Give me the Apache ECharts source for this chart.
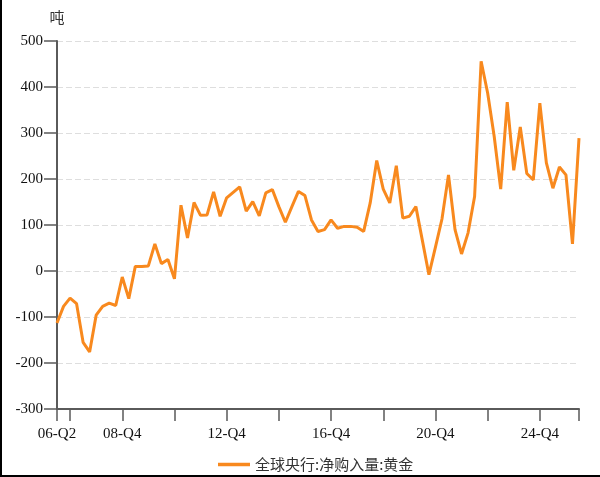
<!DOCTYPE html>
<html>
<head>
<meta charset="utf-8">
<script src="https://cdn.jsdelivr.net/npm/echarts@6/dist/echarts.min.js"></script>
<style>
html,body{margin:0;padding:0;background:#fff;}
#wrap{position:relative;width:600px;height:477px;}
#chart{position:absolute;left:0;top:0;width:600px;height:477px;}
#frame{position:absolute;left:0;top:0;width:600px;height:477px;box-sizing:border-box;border-left:2px solid #000;border-bottom:2px solid #000;pointer-events:none;}
</style>
</head>
<body>
<div id="wrap"><div id="chart"></div><div id="frame"></div></div>
<script>
const categories = [
 '06-Q2','06-Q3','06-Q4',
 '07-Q1','07-Q2','07-Q3','07-Q4',
 '08-Q1','08-Q2','08-Q3','08-Q4',
 '09-Q1','09-Q2','09-Q3','09-Q4',
 '10-Q1','10-Q2','10-Q3','10-Q4',
 '11-Q1','11-Q2','11-Q3','11-Q4',
 '12-Q1','12-Q2','12-Q3','12-Q4',
 '13-Q1','13-Q2','13-Q3','13-Q4',
 '14-Q1','14-Q2','14-Q3','14-Q4',
 '15-Q1','15-Q2','15-Q3','15-Q4',
 '16-Q1','16-Q2','16-Q3','16-Q4',
 '17-Q1','17-Q2','17-Q3','17-Q4',
 '18-Q1','18-Q2','18-Q3','18-Q4',
 '19-Q1','19-Q2','19-Q3','19-Q4',
 '20-Q1','20-Q2','20-Q3','20-Q4',
 '21-Q1','21-Q2','21-Q3','21-Q4',
 '22-Q1','22-Q2','22-Q3','22-Q4',
 '23-Q1','23-Q2','23-Q3','23-Q4',
 '24-Q1','24-Q2','24-Q3','24-Q4',
 '25-Q1','25-Q2','25-Q3','25-Q4',
 '26-Q1','26-Q2'
];
const goldNetPurchase = [
 -113,-77,-59,-71,-155,-176,-96,-77,-70,-75,
 -13,-60,10,10,11,59,16,25,-17,143,
 72,149,121,122,172,119,159,171,183,130,
 151,120,170,177,140,106,140,173,164,111,
 86,90,111,93,97,97,95,86,148,240,
 178,148,229,115,119,140,66,-8,52,113,
 209,90,37,83,162,456,387,293,178,367,
 219,313,212,198,365,235,180,226,209,59,
 289
];
const labeledCategories = ['06-Q2','08-Q4','12-Q4','16-Q4','20-Q4','24-Q4'];
const tickedCategories = ['06-Q2','06-Q4','08-Q4','10-Q4','12-Q4','14-Q4','16-Q4','18-Q4','20-Q4','22-Q4','24-Q4','26-Q2'];
const seriesName = '全球央行:净购入量:黄金';
const yTicks = {min:-300, max:500, interval:100};

const serif = "'Liberation Serif','Times New Roman',serif";
const cjk = "'Noto Sans CJK SC','Liberation Serif',serif";
const axisColor = '#5a5a5a';

const chart = echarts.init(document.getElementById('chart'), null, {renderer:'canvas'});
chart.setOption({
  animation:false,
  backgroundColor:'#fff',
  grid:{left:57, right:21, top:41, bottom:68, containLabel:false},
  legend:{
    show:true, left:213, top:452,
    itemWidth:32, itemHeight:14, itemGap:10,
    icon:'path://M0,0 L32,0 L32,3.5 L0,3.5 Z',
    textStyle:{fontFamily:cjk, fontSize:15, color:'#333'},
    data:[seriesName]
  },
  xAxis:{
    type:'category', data:categories, boundaryGap:false,
    axisLine:{show:true, onZero:false, lineStyle:{color:axisColor, width:2}},
    axisTick:{show:true, length:12, lineStyle:{color:axisColor, width:1.5},
      interval:function(i, v){ return tickedCategories.indexOf(v) >= 0; }},
    axisLabel:{margin:18, fontFamily:serif, fontSize:15, color:'#111',
      interval:function(i, v){ return labeledCategories.indexOf(v) >= 0; }},
    splitLine:{show:false}
  },
  yAxis:{
    type:'value', min:yTicks.min, max:yTicks.max, interval:yTicks.interval,
    name:'吨', nameLocation:'end', nameGap:16,
    nameTextStyle:{fontFamily:cjk, fontSize:15, color:'#333', align:'center'},
    axisLine:{show:true, onZero:false, lineStyle:{color:axisColor, width:2}},
    axisTick:{show:true, length:13, lineStyle:{color:axisColor, width:1.5}},
    axisLabel:{margin:14, fontFamily:serif, fontSize:15, color:'#111'},
    splitLine:{show:true, lineStyle:{color:'#dedede', width:1, type:[6,3]}}
  },
  series:[{
    name:seriesName, type:'line', data:goldNetPurchase,
    symbol:'none', smooth:false,
    lineStyle:{color:'#F8891E', width:3},
    itemStyle:{color:'#F8891E'}
  }]
});
</script>
</body>
</html>
